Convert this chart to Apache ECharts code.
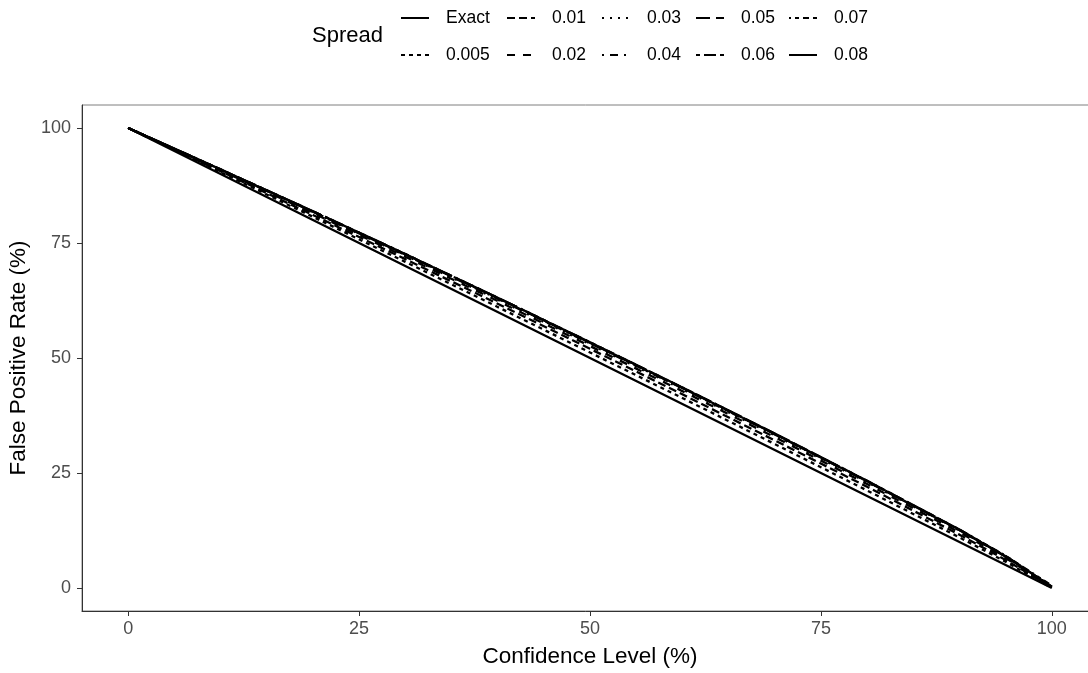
<!DOCTYPE html>
<html>
<head>
<meta charset="utf-8">
<script src="https://cdn.jsdelivr.net/npm/echarts@6/dist/echarts.min.js"></script>
<style>
  html, body { margin: 0; padding: 0; background: #fff; }
  #chart { width: 1088px; height: 673px; }
</style>
</head>
<body>
<div id="chart"></div>
<script>
// confidence level (%) at which each curve was read
var confidence = [0, 10, 20, 30, 40, 50, 60, 70, 80, 90, 95, 100];

// false positive rate (%) per spread
var fprExact = [100, 90.0, 80.0, 70.0, 60.0, 50.0, 40.0, 30.0, 20.0, 10.0, 5.0, 0.0];
var fpr0005 = [100, 90.4, 80.7, 70.9, 61.1, 51.2, 41.3, 31.3, 21.2, 11.0, 5.7, 0.0];
var fpr001 = [100, 90.6, 81.1, 71.5, 61.8, 52.0, 42.1, 32.1, 22.0, 11.6, 6.1, 0.1];
var fpr002 = [100, 90.8, 81.5, 72.0, 62.4, 52.6, 42.8, 32.8, 22.6, 12.1, 6.5, 0.2];
var fpr003 = [100, 90.9, 81.7, 72.3, 62.7, 53.0, 43.2, 33.2, 23.0, 12.5, 6.9, 0.4];
var fpr004 = [100, 90.9, 81.8, 72.4, 62.9, 53.2, 43.4, 33.4, 23.2, 12.6, 6.9, 0.3];
var fpr005 = [100, 91.0, 81.8, 72.5, 63.0, 53.3, 43.5, 33.5, 23.2, 12.6, 6.9, 0.3];
var fpr006 = [100, 91.0, 81.9, 72.6, 63.1, 53.4, 43.5, 33.5, 23.2, 12.6, 6.8, 0.2];
var fpr007 = [100, 91.0, 81.9, 72.6, 63.1, 53.4, 43.6, 33.5, 23.3, 12.7, 7.0, 0.5];
var fpr008 = [100, 91.0, 81.9, 72.6, 63.1, 53.4, 43.6, 33.6, 23.3, 12.7, 6.9, 0.3];

var spreads = ['Exact', '0.005', '0.01', '0.02', '0.03', '0.04', '0.05', '0.06', '0.07', '0.08'];
var values = [fprExact, fpr0005, fpr001, fpr002, fpr003, fpr004, fpr005, fpr006, fpr007, fpr008];
var xTicks = [0, 25, 50, 75, 100];

// ggplot linetypes (solid, 22, 42, 44, 13, 1343, 73, 2262, 12223242, F282), lwd ~2px
var dashes = [
  'solid',
  [4, 4],
  [8, 4],
  [8, 8],
  [2, 6],
  [2, 6, 8, 6],
  [14, 6],
  [4, 4, 12, 4],
  [2, 4, 4, 4, 6, 4, 8, 4],
  [30, 4, 16, 4]
];

var chart = echarts.init(document.getElementById('chart'));

var series = spreads.map(function (name, i) {
  return {
    name: name,
    type: 'line',
    data: confidence.map(function (x, j) { return [x, values[i][j]]; }),
    showSymbol: false,
    symbol: 'none',
    smooth: false,
    lineStyle: { color: '#000', width: 2.3, type: dashes[i], cap: 'butt' },
    itemStyle: { color: '#000' },
    z: 10 - i
  };
});

// one legend per column, two rows each (ggplot fills by column)
var colLeft = [400, 506, 601, 695, 788];
var legends = colLeft.map(function (left, c) {
  return {
    orient: 'vertical',
    left: left,
    top: 9,
    padding: 0,
    itemWidth: 28,
    itemHeight: 18,
    itemGap: 19,
    selectedMode: false,
    itemStyle: { color: 'rgba(0,0,0,0)', borderWidth: 0, opacity: 0 },
    data: [spreads[c * 2], spreads[c * 2 + 1]],
    textStyle: {
      fontFamily: 'Liberation Sans',
      fontSize: 17.5,
      color: '#000',
      lineHeight: 18,
      padding: [0, 0, 0, 12]
    }
  };
});

chart.setOption({
  animation: false,
  backgroundColor: '#fff',
  legend: legends,
  graphic: [
    {
      type: 'text',
      left: 312,
      top: 25,
      style: { text: 'Spread', font: '22px "Liberation Sans"', fill: '#000' }
    }
  ],
  grid: {
    left: 82,
    top: 105,
    width: 1016,
    height: 506,
    show: true,
    borderColor: '#7f7f7f',
    borderWidth: 1,
    containLabel: false,
    outerBoundsMode: 'none'
  },
  xAxis: {
    type: 'value',
    min: -5,
    max: 105,
    name: 'Confidence Level (%)',
    nameLocation: 'middle',
    nameGap: 34,
    nameTextStyle: { fontFamily: 'Liberation Sans', fontSize: 22.5, color: '#000' },
    axisLine: { show: true, onZero: false, lineStyle: { color: '#333', width: 1 } },
    axisTick: { show: true, length: 5, customValues: xTicks, lineStyle: { color: '#333' } },
    axisLabel: {
      customValues: xTicks,
      margin: 9,
      fontFamily: 'Liberation Sans',
      fontSize: 18,
      color: '#4d4d4d'
    },
    splitLine: { show: false }
  },
  yAxis: {
    type: 'value',
    min: -5,
    max: 105,
    name: 'False Positive Rate (%)',
    nameLocation: 'middle',
    nameGap: 45,
    nameTextStyle: { fontFamily: 'Liberation Sans', fontSize: 22.5, color: '#000' },
    axisLine: { show: true, onZero: false, lineStyle: { color: '#333', width: 1 } },
    axisTick: { show: true, length: 5, customValues: xTicks, lineStyle: { color: '#333' } },
    axisLabel: {
      customValues: xTicks,
      margin: 11,
      fontFamily: 'Liberation Sans',
      fontSize: 18,
      color: '#4d4d4d'
    },
    splitLine: { show: false }
  },
  series: series
});
</script>
</body>
</html>
